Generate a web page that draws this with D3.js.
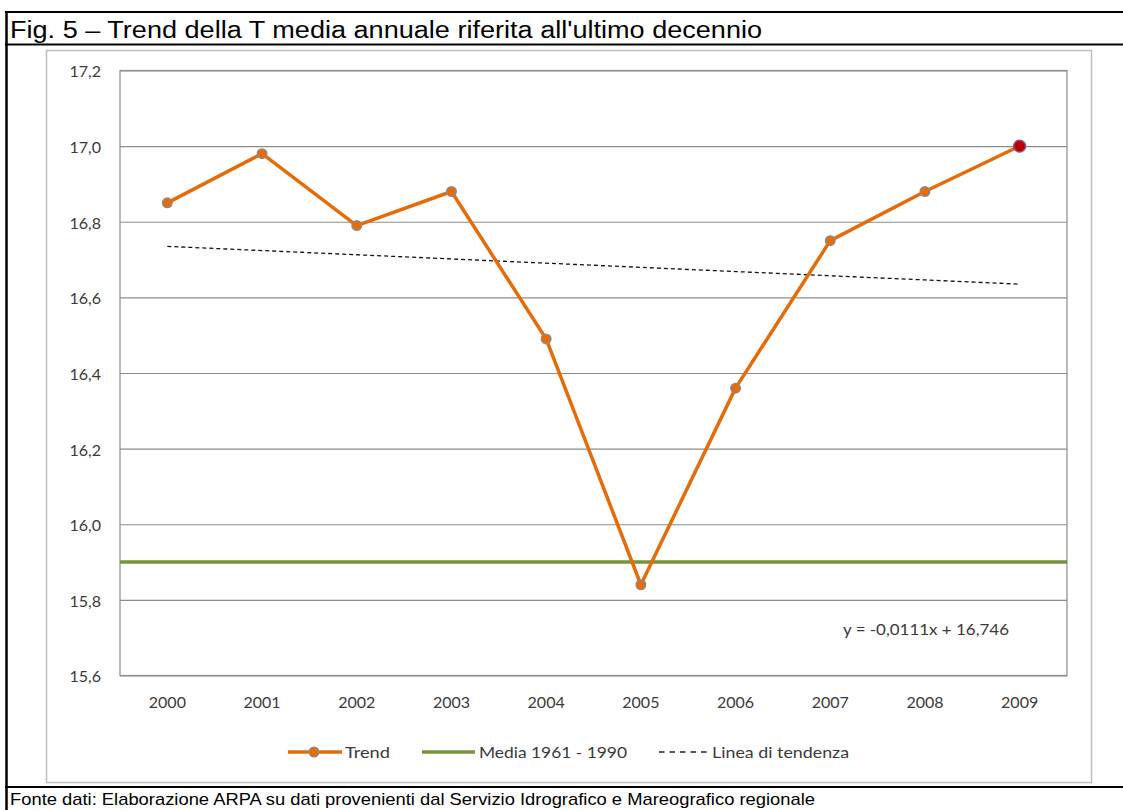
<!DOCTYPE html>
<html>
<head>
<meta charset="utf-8">
<script src="https://cdn.jsdelivr.net/npm/d3@7"></script>
<style>
  html, body { margin: 0; padding: 0; background: #fff; }
  svg { display: block; }
</style>
</head>
<body>
<svg id="chart" width="1123" height="810"></svg>
<script>
// Annual mean temperature, last decade
const years = ["2000", "2001", "2002", "2003", "2004", "2005", "2006", "2007", "2008", "2009"];
const trendValues = [16.85, 16.98, 16.79, 16.88, 16.49, 15.84, 16.36, 16.75, 16.88, 17.00];
const climateMean = 15.90;            // Media 1961 - 1990
const regSlope = -0.0111;             // linear regression, x = 1..10
const regIntercept = 16.746;
const yTicks = [15.6, 15.8, 16.0, 16.2, 16.4, 16.6, 16.8, 17.0, 17.2];
const legendLabels = ["Trend", "Media 1961 - 1990", "Linea di tendenza"];
const titleText = "Fig. 5 \u2013 Trend della T media annuale riferita all'ultimo decennio";
const sourceText = "Fonte dati: Elaborazione ARPA su dati provenienti dal Servizio Idrografico e Mareografico regionale";
const equationText = "y = -0,0111x + 16,746";

const svg = d3.select("#chart");
const W = 1123, H = 810;

const chartFont = "Lato, 'Open Sans', sans-serif";
const docFont = "'Liberation Sans', Arial, sans-serif";
const fmt = d3.format(".1f");
const itNum = v => fmt(v).replace(".", ",");

// ---- document table frame ----
const frame = svg.append("g");
frame.append("line").attr("x1", 5).attr("x2", W).attr("y1", 12).attr("y2", 12)
  .attr("stroke", "#000").attr("stroke-width", 2);
frame.append("line").attr("x1", 5).attr("x2", W).attr("y1", 44.5).attr("y2", 44.5)
  .attr("stroke", "#000").attr("stroke-width", 2);
frame.append("line").attr("x1", 5).attr("x2", W).attr("y1", 787).attr("y2", 787)
  .attr("stroke", "#000").attr("stroke-width", 2);
frame.append("line").attr("x1", 6.5).attr("x2", 6.5).attr("y1", 11).attr("y2", H)
  .attr("stroke", "#000").attr("stroke-width", 2.5);

svg.append("text").attr("x", 10).attr("y", 37.5)
  .attr("font-family", docFont).attr("font-size", 23).attr("fill", "#000")
  .attr("textLength", 752).attr("lengthAdjust", "spacingAndGlyphs")
  .text(titleText);
svg.append("text").attr("x", 10).attr("y", 805)
  .attr("font-family", docFont).attr("font-size", 17).attr("fill", "#000")
  .attr("textLength", 805).attr("lengthAdjust", "spacingAndGlyphs")
  .text(sourceText);

// ---- chart area ----
svg.append("rect").attr("x", 46.5).attr("y", 50.5).attr("width", 1045).attr("height", 732)
  .attr("fill", "#fff").attr("stroke", "#bdbdbd").attr("stroke-width", 1.5);

const plot = { left: 120, right: 1067, top: 70.5, bottom: 675.5 };

const x = d3.scaleBand().domain(years).range([plot.left, plot.right]);
const y = d3.scaleLinear().domain([15.6, 17.2]).range([plot.bottom, plot.top]);
const cx = d => x(d) + x.bandwidth() / 2;

// gridlines
svg.append("g").attr("transform", `translate(${plot.left},0)`)
  .call(d3.axisLeft(y).tickValues(yTicks).tickSize(-(plot.right - plot.left)).tickFormat(""))
  .call(g => g.select(".domain").remove())
  .call(g => g.selectAll(".tick line").attr("stroke", "#8c8c8c").attr("stroke-width", 1.2));

// plot-area border
svg.append("rect").attr("x", plot.left).attr("y", plot.top)
  .attr("width", plot.right - plot.left).attr("height", plot.bottom - plot.top)
  .attr("fill", "none").attr("stroke", "#8c8c8c").attr("stroke-width", 1.2);

// y-axis labels
svg.append("g").attr("transform", `translate(${plot.left - 19},0)`)
  .call(d3.axisLeft(y).tickValues(yTicks).tickSize(0).tickPadding(0).tickFormat(itNum))
  .call(g => g.select(".domain").remove())
  .call(g => g.selectAll("text").attr("font-family", chartFont).attr("font-size", 16)
    .attr("fill", "#3a3a3a").attr("dy", "0.4em"));

// x-axis labels
svg.append("g").attr("transform", `translate(0,${plot.bottom})`)
  .call(d3.axisBottom(x).tickSize(0).tickPadding(21))
  .call(g => g.select(".domain").remove())
  .call(g => g.selectAll("text").attr("font-family", chartFont).attr("font-size", 16)
    .attr("fill", "#3a3a3a"));

// climatological mean 1961-1990
svg.append("line")
  .attr("x1", plot.left).attr("x2", plot.right)
  .attr("y1", y(climateMean)).attr("y2", y(climateMean))
  .attr("stroke", "#77933c").attr("stroke-width", 3.5);

// linear trend line
const regData = years.map((yr, i) => ({ yr, v: regSlope * (i + 1) + regIntercept }));
svg.append("path").datum(regData)
  .attr("d", d3.line().x(d => cx(d.yr)).y(d => y(d.v)))
  .attr("fill", "none").attr("stroke", "#111").attr("stroke-width", 1.3)
  .attr("stroke-dasharray", "4,3");

// annual series
const series = years.map((yr, i) => ({ yr, v: trendValues[i] }));
svg.append("path").datum(series)
  .attr("d", d3.line().x(d => cx(d.yr)).y(d => y(d.v)))
  .attr("fill", "none").attr("stroke", "#e46c0a").attr("stroke-width", 3.5)
  .attr("stroke-linejoin", "round");

svg.append("g").selectAll("circle").data(series).join("circle")
  .attr("cx", d => cx(d.yr)).attr("cy", d => y(d.v))
  .attr("r", (d, i) => i === series.length - 1 ? 6 : 4.8)
  .attr("fill", (d, i) => i === series.length - 1 ? "#c00000" : "#e46c0a")
  .attr("stroke", (d, i) => i === series.length - 1 ? "#8c5a8c" : "#8c8c8c")
  .attr("stroke-width", 1.4);

// regression equation
svg.append("text").attr("x", 843).attr("y", 635)
  .attr("font-family", chartFont).attr("font-size", 16).attr("fill", "#3a3a3a")
  .attr("textLength", 166).attr("lengthAdjust", "spacingAndGlyphs")
  .text(equationText);

// ---- legend ----
const legY = 752;
const leg = svg.append("g").attr("font-family", chartFont).attr("font-size", 16).attr("fill", "#3a3a3a");
// Trend
leg.append("line").attr("x1", 288).attr("x2", 342).attr("y1", legY).attr("y2", legY)
  .attr("stroke", "#e46c0a").attr("stroke-width", 3.5);
leg.append("circle").attr("cx", 314).attr("cy", legY).attr("r", 4.8)
  .attr("fill", "#e46c0a").attr("stroke", "#8c8c8c").attr("stroke-width", 1.4);
leg.append("text").attr("x", 345).attr("y", legY).attr("dy", "0.36em")
  .attr("textLength", 45).attr("lengthAdjust", "spacingAndGlyphs").text(legendLabels[0]);
// Media 1961-1990
leg.append("line").attr("x1", 422).attr("x2", 475).attr("y1", legY).attr("y2", legY)
  .attr("stroke", "#77933c").attr("stroke-width", 3.5);
leg.append("text").attr("x", 479).attr("y", legY).attr("dy", "0.36em")
  .attr("textLength", 148).attr("lengthAdjust", "spacingAndGlyphs").text(legendLabels[1]);
// Linea di tendenza
leg.append("line").attr("x1", 659).attr("x2", 708).attr("y1", legY).attr("y2", legY)
  .attr("stroke", "#222").attr("stroke-width", 1.6).attr("stroke-dasharray", "5.5,5");
leg.append("text").attr("x", 712).attr("y", legY).attr("dy", "0.36em")
  .attr("textLength", 137).attr("lengthAdjust", "spacingAndGlyphs").text(legendLabels[2]);
</script>
</body>
</html>
